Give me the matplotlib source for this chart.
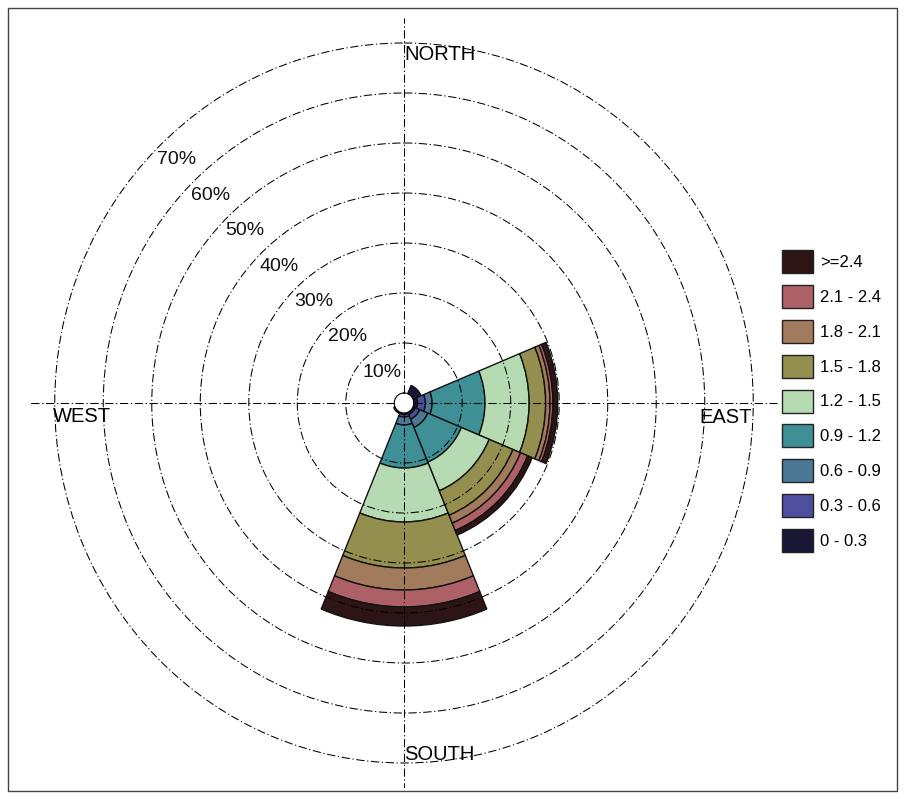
import numpy as np
import matplotlib
matplotlib.use("Agg")
import matplotlib.pyplot as plt
from matplotlib.patches import Patch, Rectangle

plt.rcParams['font.family'] = ['Liberation Sans', 'DejaVu Sans']

# Wind directions (compass degrees) and sector width
directions = ['N', 'NE', 'E', 'SE', 'S', 'SW', 'W', 'NW']
dir_angles = [0, 45, 90, 135, 180, 225, 270, 315]
sector_width = 45

# Frequency (%) per speed class for each direction
speed_labels = ['0 - 0.3', '0.3 - 0.6', '0.6 - 0.9', '0.9 - 1.2', '1.2 - 1.5',
                '1.5 - 1.8', '1.8 - 2.1', '2.1 - 2.4', '>=2.4']
freq_0_03  = [0.0, 1.8, 0.8, 0.5, 0.3, 0.3, 0.0, 0.0]
freq_03_06 = [0.0, 0.0, 1.6, 1.0, 0.5, 0.0, 0.0, 0.0]
freq_06_09 = [0.0, 0.0, 1.4, 1.8, 1.6, 0.0, 0.0, 0.0]
freq_09_12 = [0.0, 0.0, 10.9, 7.5, 8.6, 0.0, 0.0, 0.0]
freq_12_15 = [0.0, 0.0, 9.1, 6.2, 10.8, 0.0, 0.0, 0.0]
freq_15_18 = [0.0, 0.0, 3.4, 5.3, 9.2, 0.0, 0.0, 0.0]
freq_18_21 = [0.0, 0.0, 0.9, 1.7, 4.4, 0.0, 0.0, 0.0]
freq_21_24 = [0.0, 0.0, 0.6, 1.6, 3.4, 0.0, 0.0, 0.0]
freq_24_up = [0.0, 0.0, 1.0, 1.0, 3.8, 0.0, 0.0, 0.0]
freq_table = [freq_0_03, freq_03_06, freq_06_09, freq_09_12, freq_12_15,
              freq_15_18, freq_18_21, freq_21_24, freq_24_up]

speed_colors = ['#171733', '#4d4f9e', '#4a7896', '#3e8f96', '#b6dbb2',
                '#948f4f', '#a27a5c', '#ad6166', '#2e1515']

ring_values = [10, 20, 30, 40, 50, 60, 70]
ring_labels = ['10%', '20%', '30%', '40%', '50%', '60%', '70%']
compass_labels = ['NORTH', 'EAST', 'SOUTH', 'WEST']

W, H = 906, 799
fig = plt.figure(figsize=(W / 100, H / 100), dpi=100)
ax = fig.add_axes([30.5 / W, 11 / H, 747 / W, 770 / H], projection='polar')
ax.set_aspect('auto')
ax.set_theta_zero_location('N')
ax.set_theta_direction(-1)
ax.set_rorigin(-2)
ax.set_ylim(0, 75)

theta = np.deg2rad(dir_angles)
width = np.deg2rad(sector_width)
bottom = np.zeros(len(directions))
for vals, col in zip(freq_table, speed_colors):
    vals = np.asarray(vals)
    mask = vals > 0
    ax.bar(theta[mask], vals[mask], width=width, bottom=bottom[mask],
           color=col, edgecolor='#111111', linewidth=1.0, align='center',
           zorder=1)
    bottom += vals

# grid drawn over the sectors
grid_style = dict(color=(0, 0, 0, 0.26), linewidth=0.75,
                  linestyle=(0, (8, 2.5, 1.2, 2.5)))
ax.set_axisbelow(False)
ax.set_yticks(ring_values)
ax.set_yticklabels([])
ax.set_xticks(np.deg2rad([0, 90, 180, 270]))
ax.set_xticklabels([])
ax.grid(True, **grid_style)
ax.spines['polar'].set_visible(False)
ax.spines['inner'].set_visible(False)
ax.tick_params(length=0)

# ring labels along the north-west diagonal
for v, lab in zip(ring_values, ring_labels):
    ax.annotate(lab, xy=(np.deg2rad(315), v - 4.4), xytext=(4, 4),
                textcoords='offset pixels', ha='center', va='center',
                fontsize=14, color='#111111', annotation_clip=False)

# compass labels
ax.text(0, 67.7, compass_labels[0], ha='left', va='center', fontsize=14.5)
ax.text(np.pi, 68.3, compass_labels[2], ha='left', va='center', fontsize=14.5)
ax.annotate(compass_labels[3], xy=(np.deg2rad(270), 70.4), xytext=(0, -4),
            textcoords='offset pixels', ha='left', va='top', fontsize=14.5,
            annotation_clip=False)
ax.annotate(compass_labels[1], xy=(np.deg2rad(90), 69.8), xytext=(0, -5),
            textcoords='offset pixels', ha='right', va='top', fontsize=14.5,
            annotation_clip=False)

# legend (largest class on top)
handles = [Patch(facecolor=c, edgecolor='#222222', linewidth=1.0)
           for c in speed_colors][::-1]
fig.legend(handles, speed_labels[::-1], loc='upper left',
           bbox_to_anchor=(775.3 / W, 1 - 243.3 / H), frameon=False,
           fontsize=12, handlelength=1.86, handleheight=1.746,
           labelspacing=0.714, handletextpad=0.42, borderaxespad=0)

# frame around the figure
fig.patches.append(Rectangle((8 / W, 8 / H), (897 - 8) / W, (791 - 8) / H,
                             transform=fig.transFigure, fill=False,
                             edgecolor='#444444', linewidth=1.0))

fig.savefig('out.png', dpi=100)
